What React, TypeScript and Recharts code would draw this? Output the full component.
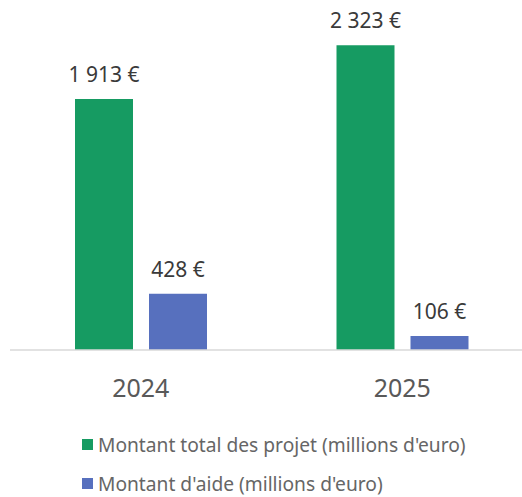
import React from "react";
import { BarChart, Bar, XAxis, YAxis, LabelList, Legend } from "recharts";

const categories = ["2024", "2025"];
const totalProjets = [1913, 2323];
const montantAide = [428, 106];
const seriesNames = [
  "Montant total des projet (millions d'euro)",
  "Montant d'aide (millions d'euro)",
];
const seriesColors = ["#169B62", "#5770BE"];

const data = categories.map((c, i) => ({
  year: c,
  total: totalProjets[i],
  aide: montantAide[i],
}));

const FONT = "'Noto Sans', sans-serif";

const fmt = (v: any) =>
  `${String(v).replace(/\B(?=(\d{3})+(?!\d))/g, "\u00a0")}\u00a0€`;

const LegendContent = (props: any) => {
  const payload = [...(props.payload || [])].sort(
    (a: any, b: any) => seriesNames.indexOf(a.value) - seriesNames.indexOf(b.value)
  );
  return (
    <div style={{ paddingTop: 28, paddingLeft: 82, fontFamily: FONT }}>
      {payload.map((p: any, i: number) => (
        <div
          key={i}
          style={{ display: "flex", alignItems: "center", height: 39 }}
        >
          <span
            style={{
              display: "inline-block",
              width: 11,
              height: 11,
              background: p.color,
              marginRight: 5,
            }}
          />
          <span style={{ fontSize: 19.2, lineHeight: "24px", color: "#666666" }}>{p.value}</span>
        </div>
      ))}
    </div>
  );
};

export default function App() {
  return (
    <div
      style={{
        position: "absolute",
        left: 0,
        top: 0,
        width: 522,
        height: 497,
        overflow: "hidden",
        background: "#fff",
      }}
    >
      <BarChart
        width={545}
        height={497}
        data={data}
        margin={{ top: 22, right: 12, left: 10, bottom: 0 }}
        barGap={16}
        barSize={58}
      >
        <XAxis
          dataKey="year"
          tickLine={false}
          tickSize={0}
          tickMargin={29}
          height={47}
          axisLine={{ stroke: "#d9d9d9", strokeWidth: 1.5 }}
          tick={{ fontSize: 25, fill: "#595959", fontFamily: FONT }}
        />
        <YAxis hide domain={[0, 2500]} />
        <Legend
          verticalAlign="bottom"
          height={100}
          wrapperStyle={{ left: 0, width: 522 }}
          content={<LegendContent />}
        />
        <Bar
          dataKey="total"
          name={seriesNames[0]}
          fill={seriesColors[0]}
          isAnimationActive={false}
        >
          <LabelList
            dataKey="total"
            position="top"
            offset={17}
            formatter={fmt}
            style={{ fontSize: 21, fill: "#3a3a3a", fontFamily: FONT }}
          />
        </Bar>
        <Bar
          dataKey="aide"
          name={seriesNames[1]}
          fill={seriesColors[1]}
          isAnimationActive={false}
        >
          <LabelList
            dataKey="aide"
            position="top"
            offset={17}
            formatter={fmt}
            style={{ fontSize: 21, fill: "#3a3a3a", fontFamily: FONT }}
          />
        </Bar>
      </BarChart>
    </div>
  );
}
